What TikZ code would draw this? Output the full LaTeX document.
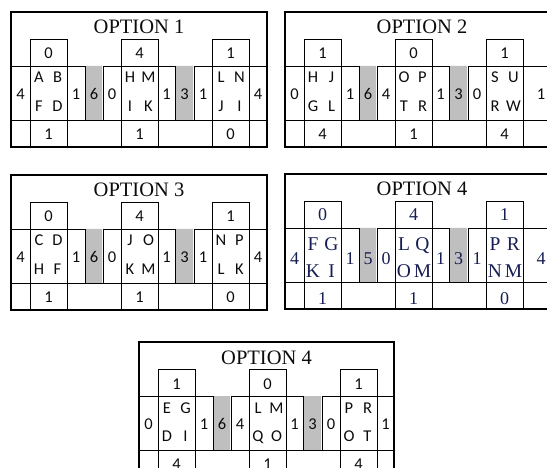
\documentclass[tikz,border=0pt]{standalone}
\usepackage{fontspec}
\setmainfont{Liberation Serif}
\newfontfamily\calfont{Carlito}

\definecolor{ink}{RGB}{12,12,12}
\definecolor{navyink}{RGB}{22,30,84}
\definecolor{gapgrey}{RGB}{191,191,191}

\tikzset{
  grid line/.style={draw=black, line width=0.9pt},
  frame line/.style={draw=black, line width=1.9pt},
  gap fill/.style={fill=gapgrey},
  title text/.style={inner sep=0pt, anchor=base, text=ink,
    font=\fontsize{20.5}{21}\selectfont},
  num/.style={inner sep=0pt, anchor=base, text=ink,
    font=\calfont\fontsize{16.5}{16.5}\selectfont},
  letter/.style={inner sep=0pt, anchor=base, text=ink,
    font=\calfont\fontsize{16.5}{16.5}\selectfont},
}

% baselines (relative to the panel top) of the rows of figures and letters
\def\opttopnum{47}
\def\optmidnum{87.5}
\def\optbotnum{127.5}
\def\optlettop{71}
\def\optletbot{99.5}

% grid, grey gaps, outer frame and heading of one panel
% #1 name, #2 panel width, #3 heading
\newcommand\optframe[3]{%
  \fill[gap fill] (75,54) rectangle (91,108) (165,54) rectangle (182,108);
  \draw[grid line] (19,27) rectangle (56,54) (110,27) rectangle (147,54)
                   (201,27) rectangle (238,54);
  \draw[grid line] (0,54) rectangle (74,108) (92,54) rectangle (164,108)
                   (183,54) rectangle (#2,108);
  \draw[grid line] (0,108) -- (#2,108);
  \foreach \xx in {19,56,110,147,201,238}
    \draw[grid line] (\xx,54) -- (\xx,135);
  \draw[frame line] (0,0) rectangle (#2,135);
  \node[title text] (#1-title) at (#2/2,22) {#3};
}

% figures in the two grey gaps
\newcommand\optgaps[3]{%
  \node[num] (#1-gapA) at (83,\optmidnum) {#2};
  \node[num] (#1-gapB) at (173.5,\optmidnum) {#3};
}

% the four letters of a block
\newcommand\optletters[6]{%
  \node[letter] (#1-a) at (#2+9,\optlettop) {#3};
  \node[letter] (#1-b) at (#2+27.5,\optlettop) {#4};
  \node[letter] (#1-c) at (#2+9,\optletbot) {#5};
  \node[letter] (#1-d) at (#2+27.5,\optletbot) {#6};
}

% one block: #1 name, #2 x of the left figure, #3 left edge of the letter cell,
% #4 x of the right figure, #5 top, #6 left, #7 right, #8 bottom, #9 letters
\def\optblock#1#2#3#4#5#6#7#8#9{%
  \node[num] (#1-top) at (#3+18.5,\opttopnum) {#5};
  \node[num] (#1-in)  at (#2,\optmidnum) {#6};
  \node[num] (#1-out) at (#4,\optmidnum) {#7};
  \node[num] (#1-bot) at (#3+18.5,\optbotnum) {#8};
  \optletters{#1}{#3}#9%
}

\begin{document}
\begin{tikzpicture}[x=1pt,y=-1pt]
\useasboundingbox (0,0) rectangle (547,468);
\clip (0,0) rectangle (547,468);

% OPTION 1
\begin{scope}[shift={(11,12)}]
  \optframe{o1}{256}{OPTION 1}
  \optgaps{o1}{6}{3}
  \optblock{o1x}{9.5}{19}{65}{0}{4}{1}{1}{{A}{B}{F}{D}}
  \optblock{o1y}{101}{110}{155.5}{4}{0}{1}{1}{{H}{M}{I}{K}}
  \optblock{o1z}{192}{201}{247}{1}{1}{4}{0}{{L}{N}{J}{I}}
\end{scope}

% OPTION 2
\begin{scope}[shift={(285,12)}]
  \optframe{o2}{274}{OPTION 2}
  \optgaps{o2}{6}{3}
  \optblock{o2x}{9.5}{19}{65}{1}{0}{1}{4}{{H}{J}{G}{L}}
  \optblock{o2y}{101}{110}{155.5}{0}{4}{1}{1}{{O}{P}{T}{R}}
  \optblock{o2z}{192}{201}{256}{1}{0}{1}{4}{{S}{U}{R}{W}}
\end{scope}

% OPTION 3
\begin{scope}[shift={(11,175)}]
  \optframe{o3}{256}{OPTION 3}
  \optgaps{o3}{6}{3}
  \optblock{o3x}{9.5}{19}{65}{0}{4}{1}{1}{{C}{D}{H}{F}}
  \optblock{o3y}{101}{110}{155.5}{4}{0}{1}{1}{{J}{O}{K}{M}}
  \optblock{o3z}{192}{201}{247}{1}{1}{4}{0}{{N}{P}{L}{K}}
\end{scope}

% OPTION 4, set in a serif face
\begin{scope}[shift={(285,174)},
    num/.style={inner sep=0pt, anchor=base, text=navyink,
      font=\fontsize{18}{18}\selectfont},
    letter/.style={inner sep=0pt, anchor=base, text=navyink,
      font=\fontsize{19.5}{19.5}\selectfont}]
  \def\optmidnum{91}
  \def\optbotnum{130.5}
  \def\optlettop{77}
  \def\optletbot{104}
  \optframe{o4}{274}{OPTION 4}
  \optgaps{o4}{5}{3}
  \optblock{o4x}{9.5}{19}{65}{0}{4}{1}{1}{{F}{G}{K}{I}}
  \optblock{o4y}{101}{110}{155.5}{4}{0}{1}{1}{{L}{Q}{O}{M}}
  \optblock{o4z}{192}{201}{256}{1}{1}{4}{0}{{P}{R}{N}{M}}
\end{scope}

% second OPTION 4
\begin{scope}[shift={(139,342)}]
  \optframe{o5}{255}{OPTION 4}
  \optgaps{o5}{6}{3}
  \optblock{o5x}{9.5}{19}{65}{1}{0}{1}{4}{{E}{G}{D}{I}}
  \optblock{o5y}{101}{110}{155.5}{0}{4}{1}{1}{{L}{M}{Q}{O}}
  \optblock{o5z}{192}{201}{246.5}{1}{0}{1}{4}{{P}{R}{O}{T}}
\end{scope}
\end{tikzpicture}
\end{document}
